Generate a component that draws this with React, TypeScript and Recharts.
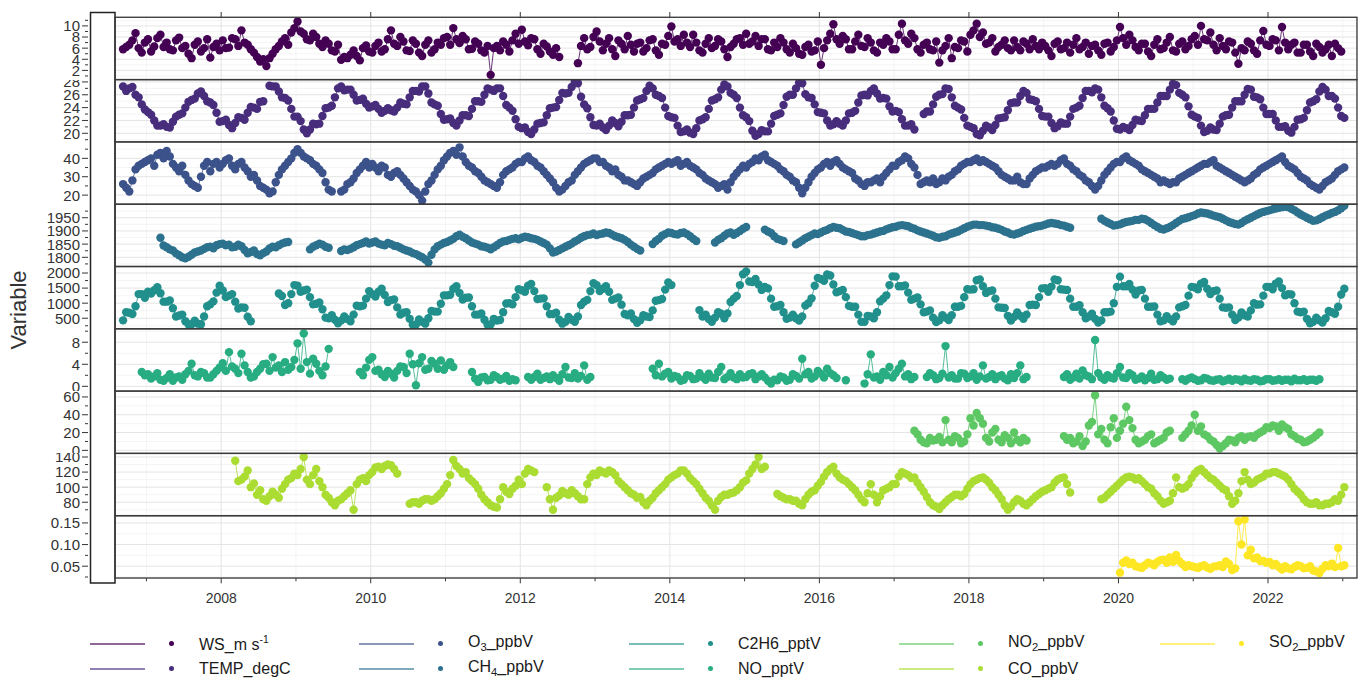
import React from "react";
import { LineChart, Line, XAxis, YAxis, CartesianGrid } from "recharts";

const FONT = '"Liberation Sans", Arial, Helvetica, sans-serif';

// time axis, decimal years
const X_DOMAIN: [number, number] = [2006.58, 2023.19];
const yearMajor = [2008, 2010, 2012, 2014, 2016, 2018, 2020, 2022];
const yearMinor = [2007, 2009, 2011, 2013, 2015, 2017, 2019, 2021, 2023];

// Each variable: [first year, first month], then two readings per month
// (early-month value and late-month value); null = no data.
const wsStart = [2006, 9];
const wsEarly = [
  5.8, 6.6, 8.7, 5.2,
  7.6, 6.3, 8.4, 7.0, 5.6, 7.9, 6.4, 4.2, 7.2, 6.0, 4.3, 6.8,
  7.4, 6.1, 7.6, 9.2, 6.6, 5.2, 3.6, 2.8, 5.0, 6.4, 7.8, 8.8,
  10.8, 8.6, 7.4, 8.0, 6.2, 6.8, 5.4, 3.9, 4.2, 5.6, 3.8, 6.5,
  5.2, 7.0, 5.8, 9.2, 6.4, 7.2, 5.5, 6.8, 4.6, 7.4, 5.8, 6.6,
  8.0, 9.6, 6.9, 7.6, 5.9, 6.8, 5.2, 1.2, 6.4, 7.2, 5.4, 8.6,
  9.3, 6.5, 7.6, 5.0, 6.3, 4.8, 4.4, null, null, 3.3, 7.8, 6.2,
  9.0, 5.6, 7.8, 4.6, 6.8, 8.2, 5.4, 7.0, 6.0, 7.6, 4.8, 6.6,
  9.9, 7.6, 8.4, 6.2, 7.0, 5.2, 7.8, 6.4, 7.2, 4.4, 6.8, 7.8,
  8.6, 7.2, 6.4, 7.6, 5.6, 6.2, 7.0, 5.2, 6.0, 4.8, 6.6, 5.6,
  3.0, 7.4, 10.3, 6.8, 7.6, 5.8, 8.4, 6.2, 7.0, 5.2, 6.6, 7.2,
  5.8, 10.4, 6.8, 7.8, 5.2, 7.0, 5.6, 3.4, 6.4, 4.2, 6.0, 7.2,
  8.4, 10.4, 8.8, 7.0, 5.4, 6.6, 6.0, 7.4, 5.6, 6.8, 7.6, 5.8,
  6.4, 4.6, 7.2, 6.0, 5.2, 7.8, 6.2, 5.0, 6.6, 4.8, 7.0, 6.2,
  9.8, 6.6, 7.4, 5.6, 6.8, 4.6, 7.6, 6.0, 8.0, 5.4, 7.2, 6.4,
  8.2, 10.0, 7.4, 6.6, 7.8, 5.8, 7.0, 3.2, 5.6, 6.8, 5.0, 9.1,
  6.4, 7.4, 9.8, 5.8, 7.0, 5.2, 6.6, 4.6, 6.2, 5.8, 4.6, 6.0,
];
const wsLate = [
  6.2, 7.4, 6.0, 7.0,
  5.4, 7.8, 6.2, 5.8, 7.4, 6.0, 5.0, 6.6, 5.4, 7.6, 6.2, 5.6,
  6.0, 7.8, 6.4, 7.0, 5.8, 4.4, 4.0, 4.2, 5.8, 7.2, 6.6, 9.6,
  9.0, 7.6, 8.6, 6.8, 7.4, 5.6, 6.6, 4.4, 4.8, 4.6, 6.0, 5.4,
  6.4, 5.4, 7.6, 6.8, 8.0, 5.6, 7.4, 5.2, 6.6, 5.2, 7.0, 7.8,
  6.6, 7.6, 8.2, 5.8, 7.2, 5.6, 6.4, 6.0, 5.6, 6.6, 7.4, 6.8,
  7.2, 7.8, 5.8, 6.8, 5.4, 6.0, null, null, null, 6.4, 5.8, 8.0,
  7.2, 6.8, 5.8, 7.4, 5.8, 6.6, 6.8, 5.4, 7.4, 5.6, 6.8, 8.2,
  7.2, 6.4, 7.0, 8.4, 5.6, 6.8, 6.0, 7.6, 5.8, 6.2, 7.6, 6.6,
  6.8, 8.2, 7.6, 5.8, 7.0, 7.8, 5.8, 6.8, 5.0, 6.2, 5.4, 7.2,
  6.0, 8.6, 7.6, 8.2, 5.8, 7.2, 6.4, 7.8, 5.6, 7.0, 7.8, 5.8,
  8.4, 7.4, 8.6, 5.8, 6.6, 5.8, 7.2, 5.6, 7.8, 6.2, 7.4, 5.4,
  9.2, 8.0, 6.8, 7.8, 6.2, 7.4, 5.6, 6.2, 7.2, 5.8, 6.4, 7.0,
  5.6, 6.8, 5.8, 7.0, 6.6, 5.8, 7.0, 6.4, 5.6, 6.8, 5.4, 7.4,
  7.8, 8.4, 6.2, 6.8, 5.4, 6.6, 5.8, 7.0, 5.6, 6.8, 5.8, 7.6,
  6.6, 7.6, 8.8, 5.6, 6.4, 7.2, 5.2, 6.0, 7.2, 5.6, 7.4, 6.6,
  7.6, 5.6, 7.0, 6.6, 5.2, 6.6, 5.4, 6.8, 5.2, 6.6, 6.8, 5.4,
];

const tempStart = [2006, 9];
const tempEarly = [
  27.3, 27.0, 26.0, 24.5,
  23.3, 22.0, 21.2, 21.0, 21.8, 22.9, 24.0, 25.2, 26.2, 25.8, 24.8, 23.2,
  21.9, 21.3, 21.6, 22.4, 23.2, 24.0, 24.9, null, 27.3, 26.5, 25.5, 23.8,
  22.6, 20.6, 20.6, 21.4, 22.7, 24.0, 25.6, 27.3, 26.8, 26.0, 25.2, 24.6,
  24.2, 23.8, 23.5, 23.6, 24.0, 24.6, 25.6, 26.6, 27.3, 26.2, 24.5, 23.0,
  22.2, 21.6, 22.0, 22.8, 23.8, 25.0, 26.0, 26.8, 27.0, 25.8, 24.0, 22.2,
  20.8, 20.2, 20.6, 21.6, 22.8, 24.0, 25.2, 26.2, 27.2, 27.8, 24.5, 22.5,
  21.2, 20.9, 21.2, 21.6, 21.8, 22.8, 24.0, 25.3, 26.6, 27.0, 25.8, 24.0,
  22.5, 21.2, 20.3, 20.1, 20.8, 22.2, 23.8, 25.3, 26.8, 27.3, 26.0, 24.0,
  22.5, 20.4, 19.9, 20.3, 21.5, 22.9, 24.4, 26.0, 27.0, 27.8, 25.6, 24.5,
  23.2, 22.0, 21.4, 21.5, 22.0, 23.2, 24.8, 26.0, 26.6, 26.2, 25.5, 24.2,
  23.5, 22.2, 21.2, 20.6, null, 23.4, 24.5, 26.0, 27.0, 25.6, 24.0, 22.4,
  21.0, 19.9, 20.4, 20.9, 21.3, 22.4, 23.6, 24.8, 25.8, 26.3, 25.2, 23.8,
  22.6, 21.6, 21.1, 21.5, 22.6, 24.0, 25.5, 26.6, 27.0, 25.6, 23.9, 22.0,
  20.6, 20.8, 21.3, 22.0, 22.8, 23.8, 24.8, 25.8, 26.8, 27.5, 26.0, 24.2,
  22.6, 21.2, 20.4, 20.6, 21.5, 22.8, 24.0, 25.0, 26.0, 26.8, 25.6, 24.0,
  23.0, 22.0, 21.0, 20.4, 21.0, 22.2, 23.6, 25.0, 26.5, 26.8, 25.8, 24.0,
  22.4,
];
const tempLate = [
  26.6, 27.2, 25.6, 23.7,
  22.9, 21.2, 21.4, 20.9, 22.6, 23.1, 24.9, 25.4, 26.5, 25.0, 24.4, 21.8,
  22.1, 20.8, 22.5, 22.1, 24.1, 23.8, 25.0, 27.4, 27.3, 25.6, 25.1, 22.6,
  21.9, 20.0, 21.5, 21.5, 23.9, 24.3, 27.0, 26.7, 26.8, 25.1, 25.4, 24.0,
  24.4, 23.2, 23.9, 23.4, 24.8, 24.5, 26.6, 26.5, 27.3, 24.8, 24.3, 22.1,
  22.3, 21.2, 22.8, 22.7, 25.0, 24.9, 27.0, 26.6, 27.0, 24.4, 23.5, 21.0,
  20.9, 19.9, 21.5, 21.7, 23.9, 24.1, 26.3, 26.3, 28.0, 25.7, 23.9, 21.3,
  21.5, 20.5, 22.0, 21.1, 22.8, 22.9, 25.1, 25.5, 27.4, 26.0, 25.5, 22.7,
  22.4, 20.2, 20.6, 19.9, 22.0, 22.5, 25.1, 25.6, 27.6, 26.3, 25.5, 22.8,
  21.9, 19.6, 20.5, 20.3, 22.7, 23.1, 25.7, 26.0, 27.9, 26.1, 25.5, 23.3,
  23.1, 21.2, 21.9, 21.2, 23.1, 23.5, 25.9, 25.9, 27.0, 25.4, 25.4, 23.4,
  23.3, 21.2, 21.4, null, 23.0, 23.4, 25.7, 26.1, 26.9, 24.3, 23.7, 21.2,
  20.8, 19.7, 21.2, 20.5, 22.3, 22.5, 24.7, 24.8, 26.6, 25.3, 25.0, 22.7,
  22.6, 20.8, 21.7, 21.5, 23.8, 24.3, 26.6, 26.4, 26.8, 24.3, 23.4, 20.7,
  21.0, 20.5, 22.1, 21.9, 23.8, 23.8, 25.8, 25.8, 27.7, 26.3, 25.6, 22.9,
  22.4, 20.2, 20.9, 20.5, 22.6, 22.9, 25.0, 25.0, 26.9, 25.7, 25.3, 23.0,
  23.0, 21.0, 21.1, 20.1, 22.1, 22.4, 24.8, 25.3, 27.2, 25.8, 25.4, 22.7,
  null,
];

const o3Start = [2006, 9];
const o3Early = [
  26, 22, 34, 37,
  39, 36, 43, 44, 37, 33, 31, 26, 24, 36, 33, 38,
  37, 40, 34, 38, 33, 31, 25, 23, 22, 31, 36, 40,
  45, 41, 39, 36, 32, 23, null, 22, 26, 29, 34, 38,
  37, 33, 35, 30, 33, 29, 25, 22, 17, 26, 31, 36,
  41, 44, 46, 38, 35, 32, 28, 26, 24, 31, 34, 37,
  38, 41, 38, 35, 31, 27, 22, 25, 28, 33, 37, 39,
  40, 38, 35, 34, 30, 28, 26, 27, 30, 32, 35, 37,
  37, 39, 37, 36, 34, 31, 28, 26, 25, 23, 30, 34,
  35, 38, 39, 42, 38, 36, 33, 30, 27, 21, 27, 32,
  35, 38, 38, 37, 34, 32, 28, 25, 27, 29, 30, 34,
  36, 39, 40, 35, 26, 28, 29, 27, 28, 31, 34, 37,
  38, 40, 39, 37, 35, 31, 29, 28, 27, 26, 31, 34,
  35, 37, 37, 40, 36, 33, 30, 27, 23, 28, 33, 37,
  38, 41, 38, 36, 33, 31, 29, 28, 26, 27, 30, 32,
  34, 36, 37, 39, 35, 33, 31, 29, 27, 29, 32, 35,
  37, 39, 41, 36, 34, 30, 28, 25, 23, 27, 29, 33,
  35,
];
const o3Late = [
  24, 28, 36, 38,
  40, 42, 40, 41, 35, 36, 28, 25, 30, 38, 37, 35,
  39, 36, 37, 35, 30, 28, 24, 21, 27, 34, 38, 43,
  43, 40, 37, 34, 27, 22, null, 23, 27, 32, 36, 35,
  35, 36, 31, 32, 31, 27, 23, 20, 22, 28, 34, 39,
  43, 42, 41, 36, 33, 30, 27, 25, 27, 33, 35, 38,
  40, 39, 36, 33, 29, 24, 23, 27, 31, 35, 38, 40,
  38, 36, 33, 31, 28, 27, 25, 29, 31, 34, 36, 38,
  38, 36, 38, 35, 32, 29, 27, 24, 26, 27, 32, 36,
  37, 40, 41, 39, 37, 34, 31, 28, 24, 24, 30, 34,
  37, 36, 39, 35, 33, 29, 26, 27, 28, 27, 32, 36,
  38, 41, 37, 31, 27, 27, 26, 29, 30, 33, 36, 38,
  39, 38, 38, 36, 33, 30, 28, 30, 26, 29, 33, 35,
  36, 36, 39, 37, 34, 31, 28, 25, 25, 31, 35, 38,
  40, 39, 37, 34, 32, 30, 27, 27, 27, 29, 31, 33,
  35, 37, 38, 36, 34, 32, 30, 28, 28, 31, 34, 36,
  38, 40, 38, 35, 32, 29, 26, 24, 25, 28, 31, 34,
  null,
];

const ch4Start = [2007, 3];
const ch4Early = [
  1874, 1838, 1826, 1808, 1796, 1810, 1822, 1832, 1840, 1846,
  1852, 1848, 1840, 1842, 1815, 1826, 1808, 1822, 1840, 1846, 1856, null,
  null, null, 1830, 1846, 1848, 1836, null, 1824, 1828, 1838, 1850, 1860,
  1856, 1852, 1846, 1850, 1842, 1830, 1822, 1812, 1800, 1780, 1830, 1848,
  1858, 1870, 1886, 1872, 1856, 1848, 1840, 1830, 1846, 1860, 1866, 1872,
  1874, 1876, 1870, 1860, 1848, 1818, 1828, 1840, 1852, 1866, 1880, 1886,
  1884, 1890, 1892, 1880, 1872, 1858, 1840, 1826, null, 1850, 1870, 1888,
  1892, 1886, 1894, 1880, 1862, null, null, 1856, 1872, 1890, 1885, 1900,
  1915, null, null, 1905, 1892, 1870, 1862, null, 1849, 1864, 1878, 1890,
  1894, 1904, 1915, 1910, 1898, 1892, 1884, 1880, 1886, 1894, 1900, 1910,
  1916, 1922, 1918, 1908, 1898, 1890, 1882, 1874, 1880, 1890, 1898, 1910,
  1920, 1924, 1922, 1918, 1912, 1904, 1894, 1886, 1894, 1904, 1912, 1918,
  1924, 1930, 1926, 1920, 1912, null, null, null, null, 1946, 1932, 1920,
  1925, 1934, 1938, 1942, 1944, 1930, 1915, 1905, 1915, 1930, 1945, 1952,
  1960, 1970, 1966, 1958, 1952, 1940, 1930, 1924, 1938, 1950, 1962, 1972,
  1978, 1985, 1990, 1990, 1978, 1962, 1950, 1938, 1945, 1958, 1968, 1978,
  1995,
];
const ch4Late = [
  1845, 1830, 1815, 1800, 1802, 1818, 1826, 1838, 1834, 1850,
  1846, 1838, 1848, 1828, 1820, 1812, 1816, 1834, 1838, 1852, 1858, null,
  null, null, 1840, 1852, 1840, null, null, 1830, 1832, 1846, 1854, 1852,
  1860, 1848, 1854, 1844, 1836, 1826, 1816, 1806, 1792, 1810, 1842, 1854,
  1864, 1880, 1878, 1864, 1852, 1842, 1836, 1838, 1854, 1862, 1870, 1868,
  1878, 1872, 1866, 1854, 1834, 1822, 1834, 1846, 1860, 1874, 1884, 1890,
  1888, 1894, 1886, 1876, 1866, 1848, 1832, null, null, 1862, 1882, 1894,
  1888, 1892, 1888, 1870, null, null, null, 1866, 1882, 1894, 1892, 1908,
  null, null, null, 1898, 1880, 1866, null, null, 1856, 1872, 1884, 1888,
  1900, 1910, 1912, 1904, 1896, 1888, 1880, 1884, 1890, 1898, 1906, 1914,
  1920, 1920, 1912, 1902, 1894, 1886, 1876, 1878, 1886, 1894, 1904, 1916,
  1924, 1922, 1920, 1914, 1908, 1898, 1888, 1890, 1900, 1908, 1916, 1920,
  1928, 1928, 1922, 1916, null, null, null, null, null, 1938, 1926, 1922,
  1930, 1936, 1942, 1946, 1938, 1922, 1908, 1910, 1922, 1938, 1948, 1956,
  1966, 1968, 1962, 1955, 1946, 1934, 1926, 1930, 1944, 1956, 1968, 1975,
  1982, 1988, 1992, 1984, 1970, 1956, 1944, 1940, 1952, 1962, 1972, 1986,
  null,
];

const c2h6Start = [2006, 9];
const c2h6Early = [
  430, 680, 900, 1300,
  1380, 1430, 1330, 1050, 830, 590, 400, 300, 320, 560, 960, 1350,
  1420, 1250, 1050, 860, 550, null, null, null, null, 1320, 940, 1300,
  1580, 1420, 1200, 980, 800, 500, 450, 420, 470, 620, 900, 1150,
  1300, 1380, 1270, 1100, 860, 680, 480, 290, 380, 500, 720, 980,
  1260, 1480, 1340, 1180, 900, 620, 450, 300, 420, 700, 1000, 1200,
  1430, 1580, 1400, 1150, 900, 640, 450, 380, 450, 560, 1050, 1400,
  1600, 1480, 1380, 1150, 950, 600, 470, 430, 560, 760, 1100, 1450,
  1600, null, null, null, null, 560, 470, 520, 650, 660, 1150, 1600,
  2050, 1700, 1620, 1540, 1150, 900, 700, 520, 500, 560, 1000, 1580,
  1800, 1950, 1620, 1400, 1200, 880, 620, 380, 560, 700, 1150, 1600,
  1880, 1560, 1350, 1150, 960, 720, 520, 430, 520, 600, 880, 1200,
  1450, 1760, 1560, 1400, 1150, 850, 580, 540, 580, 620, 950, 1200,
  1500, 1550, 1760, 1450, 1150, 880, 700, 560, 480, 430, 700, 1000,
  1880, 1560, 1450, 1420, 1150, 880, 620, 430, 470, 560, 900, 1250,
  1520, 1650, 1480, 1400, 1150, 850, 620, 520, 600, 760, 950, 1250,
  1540, 1650, 1500, 1300, 1000, 700, 480, 380, 430, 500, 700, 880,
  1480,
];
const c2h6Late = [
  700, 640, 1300, 1180,
  1320, 1530, 1050, 1090, 560, 620, 300, 420, 300, 900, 1060, 1580,
  1200, 1300, 820, 850, 400, null, null, null, null, 1240, 1000, 1600,
  1380, 1450, 960, 1020, 520, 600, 330, 560, 400, 920, 920, 1400,
  1220, 1480, 1040, 1120, 620, 700, 280, 460, 320, 740, 720, 1260,
  1280, 1560, 1120, 1190, 620, 660, 280, 480, 440, 990, 960, 1460,
  1380, 1640, 1140, 1160, 640, 680, 320, 540, 380, 940, 1110, 1660,
  1400, 1560, 1110, 1190, 640, 660, 350, 600, 540, 1080, 1140, 1690,
  null, null, null, null, 770, 620, 380, 700, 500, 1040, 1240, 1960,
  1720, 1800, 1440, 1490, 880, 940, 480, 620, 420, 920, 1160, 1840,
  1740, 1920, 1360, 1440, 910, 880, 380, 580, 500, 1060, 1260, 1890,
  1560, 1590, 1110, 1190, 700, 760, 370, 600, 440, 880, 910, 1460,
  1460, 1790, 1340, 1420, 860, 840, 420, 690, 480, 940, 940, 1490,
  1380, 1790, 1460, 1440, 880, 930, 500, 650, 360, 700, 720, 1540,
  1560, 1640, 1290, 1440, 880, 890, 400, 570, 400, 860, 940, 1540,
  1460, 1700, 1300, 1420, 860, 860, 440, 690, 560, 1000, 960, 1540,
  1460, 1720, 1260, 1290, 720, 720, 330, 520, 360, 740, 650, 1290,
  null,
];

const noStart = [2006, 12];
const noEarly = [
  2.6,
  2.2, 1.8, 1.2, 1.5, 1.0, 1.8, 2.2, 4.1, 1.8, 2.4, 1.6, 2.8,
  4.2, 6.2, 3.2, 5.9, 2.6, 1.8, 3.2, 4.1, 5.3, 3.8, 4.4, 3.5,
  7.8, 9.6, 2.3, 4.1, 2.0, 6.8, null, null, null, null, 2.6, 3.4,
  5.3, 3.0, 1.7, 2.3, 2.8, 3.5, 5.9, 0.2, 5.3, 3.2, 4.1, 4.7,
  3.8, 3.5, null, null, 2.6, 0.8, 1.7, 1.2, 1.7, 1.4, 1.0, 1.1,
  null, 1.7, 1.7, 1.2, 1.8, 2.0, 1.0, 3.5, 1.5, 1.4, 3.8, 1.7,
  null, null, null, null, null, null, null, null, null, 3.2, 4.1, 2.3,
  1.4, 1.7, 1.2, 1.9, 1.4, 1.7, 2.3, 1.5, 3.5, 1.7, 1.6, 2.2,
  1.7, 2.4, 1.8, 1.6, 0.5, 1.1, 1.6, 1.2, 1.9, 5.0, 2.6, 1.8,
  2.3, 3.2, 2.0, null, 1.1, null, null, 0.5, 5.8, 1.8, 2.6, 3.5,
  2.4, 4.1, 2.2, 1.7, null, 1.7, 2.0, 1.5, 7.3, 2.0, 1.4, 2.3,
  1.8, 1.2, 3.8, 1.7, 1.3, 2.0, 1.1, 1.5, 3.8, 1.7, null, null,
  null, null, null, 1.7, 1.2, 2.3, 2.9, 1.8, 8.4, 1.6, 2.0, 1.4,
  3.5, 1.5, 2.0, 1.4, 1.1, 2.3, 1.3, 1.6, 1.4, null, 1.3, 1.4,
  1.3, 1.1, 1.4, 1.0, 1.3, 1.1, 1.0, 1.2, 1.4, 1.0, 1.2, 1.0,
  1.3, 1.1, 1.0, 1.2, 1.4, 1.1, 1.0, 1.2, 1.3,
];
const noLate = [
  2.0,
  1.4, 2.4, 1.0, 2.2, 1.6, 1.2, 2.8, 2.0, 2.6, 1.6, 2.2, 3.4,
  2.8, 3.6, 2.4, 3.8, 1.6, 2.6, 4.0, 2.8, 3.4, 2.6, 3.0, 4.8,
  3.2, 4.4, 5.0, 2.8, 3.6, null, null, null, null, null, 2.0, 4.8,
  2.8, 2.2, 2.8, 1.6, 3.6, 2.4, 4.0, 4.2, 3.0, 4.6, 3.2, 3.0,
  4.4, null, null, null, 1.4, 1.6, 1.1, 2.0, 1.2, 1.9, 1.3, null,
  null, 1.2, 2.3, 1.5, 1.3, 1.5, 2.2, 1.6, 2.4, 1.9, 1.2, null,
  null, null, null, null, null, null, null, null, null, 2.0, 1.8, 2.6,
  1.9, 1.0, 2.0, 1.3, 2.4, 1.2, 1.6, 2.6, 1.3, 2.4, 1.3, 1.6,
  2.2, 1.3, 2.2, 1.0, 1.2, 1.8, 1.0, 2.2, 1.4, 2.2, 1.4, 2.8,
  1.6, 2.4, 1.5, null, null, null, null, 2.2, 1.6, 1.2, 2.0, 1.6,
  3.2, 1.8, 1.3, null, null, 2.4, 1.3, 2.3, 1.6, 1.4, 2.4, 1.5,
  2.4, 1.8, 1.4, 2.2, 1.8, 1.4, 2.2, 2.4, 1.3, null, null, null,
  null, null, null, 2.2, 1.6, 1.4, 2.0, 1.3, 2.4, 1.2, 1.6, 2.4,
  1.6, 2.4, 1.2, 1.8, 1.5, 1.2, 2.0, 1.2, null, null, 1.0, 1.6,
  1.0, 1.5, 1.1, 1.2, 0.9, 1.4, 1.3, 0.9, 1.1, 1.3, 0.9, 1.3,
  1.0, 1.3, 1.2, 0.9, 1.1, 1.3, 1.2, 1.0, null,
];

const no2Start = [2017, 4];
const no2Early = [
  22, 12, 8, 11, 15, 34, 9, 14, 10,
  36, 42, 30, 10, 24, 9, 14, 20, 9, 11, null, null,
  null, null, null, 16, 14, 10, 5, 28, 62, 24, 8, 36,
  22, 49, 25, 8, 12, 18, 10, 14, 22, null, 14, 22,
  40, 27, 16, 10, 2, 8, 11, 14, 12, 16, 18, 22,
  25, 27, 29, 24, 16, 12, 10, 14, 20,
];
const no2Late = [
  18, 9, 14, 12, 9, 12, 16, 8, 18,
  28, 36, 14, 20, 12, 17, 8, 12, 14, null, null, null,
  null, null, null, 12, 8, 16, 10, 32, 18, 12, 26, 14,
  30, 34, 12, 10, 16, 8, 12, 20, null, null, 18, 28,
  22, 18, 12, 6, 5, 12, 9, 16, 15, 14, 20, 26,
  28, 22, 26, 18, 13, 9, 12, 17, null,
];

const coStart = [2008, 3];
const coEarly = [
  135, 110, 122, 105, 96, 82, 94, 86, 104, 112,
  116, 140, 104, 124, 100, 86, 76, 84, 92, 70, 110, 108,
  120, 127, 128, 129, 118, null, 78, 80, 82, 84, 84, 92,
  104, 136, 124, 120, 108, 98, 84, 76, 73, 100, 91, 102,
  104, 124, 120, null, 100, 70, 89, 92, 96, 88, 84, 113,
  116, 120, 122, 116, 104, 96, 90, 87, 76, 86, 96, 104,
  113, 118, 122, 112, 104, 92, 82, 70, 87, 90, 93, 100,
  109, 124, 140, 127, null, 91, 86, 84, 82, 76, 90, 96,
  107, 120, 127, 113, 108, 100, 90, 80, 104, 80, 96, 100,
  104, 120, 116, 113, 100, 87, 76, 71, 80, 87, 90, 91,
  104, 110, 113, 106, 96, 84, 70, 80, 82, 76, 84, 91,
  96, 100, 110, 113, 93, null, null, null, null, 84, 90, 98,
  106, 113, 113, 112, 104, 98, 88, 78, 82, 113, 98, 104,
  118, 124, 116, 110, 102, 96, 78, 92, 120, 104, 110, 114,
  118, 120, 116, 110, 98, 90, 80, 78, 76, 78, 80, 82,
  100,
];
const coLate = [
  108, 114, 100, 90, 84, 88, 90, 98, 110, 118,
  124, 110, 116, 108, 90, 80, 82, 88, 96, 104, 112, 116,
  126, 124, 130, 124, null, null, 80, 78, 84, 82, 88, 98,
  116, 128, 118, 112, 104, 90, 80, 74, 84, 94, 98, 110,
  118, 122, null, null, 84, 86, 95, 90, 92, 84, 104, 118,
  122, 118, 120, 108, 100, 92, 86, 80, 82, 92, 100, 110,
  116, 122, 118, 108, 98, 86, 76, 82, 90, 92, 96, 106,
  118, 130, 124, null, null, 88, 84, 82, 78, 84, 94, 102,
  114, 124, 118, 110, 104, 96, 84, 92, 90, 88, 98, 104,
  114, 118, 112, 106, 94, 80, 74, 76, 84, 90, 88, 98,
  108, 112, 110, 100, 90, 76, 74, 84, 78, 80, 88, 94,
  98, 106, 112, 104, null, null, null, null, null, 86, 94, 102,
  110, 114, 110, 108, 100, 92, 82, 80, 92, 100, 100, 112,
  122, 120, 112, 106, 98, 88, 82, 108, 110, 106, 112, 118,
  120, 118, 114, 104, 94, 84, 78, 80, 76, 78, 84, 90,
  null,
];

const so2Start = [2020, 1];
const so2Early = [
  0.035, 0.063, 0.058, 0.048, 0.052, 0.056, 0.06, 0.065, 0.07, 0.076, 0.055, 0.052,
  0.048, 0.05, 0.047, 0.049, 0.052, 0.061, 0.041, 0.154, 0.158, 0.088, 0.07, 0.062,
  0.06, 0.055, 0.042, 0.045, 0.048, 0.05, 0.046, 0.04, 0.034, 0.052, 0.056, 0.092,
  0.052,
];
const so2Late = [
  0.058, 0.055, 0.05, 0.046, 0.058, 0.052, 0.064, 0.058, 0.06, 0.062, 0.048, 0.05,
  0.046, 0.052, 0.044, 0.05, 0.048, 0.055, 0.045, 0.1, 0.075, 0.068, 0.062, 0.058,
  0.052, 0.048, 0.05, 0.043, 0.052, 0.045, 0.05, 0.038, 0.044, 0.05, 0.048, 0.05,
  null,
];

// page layout
const PLOT_LEFT = 115;
const PLOT_RIGHT = 1357;
const PANEL_TOP = 17.3;
const PANEL_H = 62.3;
const AXIS_X = 88;
const TOP_TICKS_H = 7;
const BOTTOM_AXIS_H = 32;

type Panel = {
  id: string;
  color: string;
  start: number[];
  early: (number | null)[];
  late: (number | null)[];
  domain: [number, number];
  major: number[];
  minor: number[];
  digits: number;
};

const panels: Panel[] = [
  { id: "ws", color: "#440154", start: wsStart, early: wsEarly, late: wsLate, domain: [0.4, 11.6], major: [2, 4, 6, 8, 10], minor: [1, 3, 5, 7, 9, 11], digits: 0 },
  { id: "temp", color: "#472D7B", start: tempStart, early: tempEarly, late: tempLate, domain: [18.6, 28.3], major: [20, 22, 24, 26, 28], minor: [19, 21, 23, 25, 27], digits: 0 },
  { id: "o3", color: "#3B528B", start: o3Start, early: o3Early, late: o3Late, domain: [15, 48.9], major: [20, 30, 40], minor: [25, 35, 45], digits: 0 },
  { id: "ch4", color: "#2C728E", start: ch4Start, early: ch4Early, late: ch4Late, domain: [1766, 2002], major: [1800, 1850, 1900, 1950], minor: [1775, 1825, 1875, 1925, 1975], digits: 0 },
  { id: "c2h6", color: "#21908C", start: c2h6Start, early: c2h6Early, late: c2h6Late, domain: [133, 2200], major: [500, 1000, 1500, 2000], minor: [250, 750, 1250, 1750], digits: 0 },
  { id: "no", color: "#27AD81", start: noStart, early: noEarly, late: noLate, domain: [-0.9, 10.4], major: [0, 4, 8], minor: [2, 6, 10], digits: 0 },
  { id: "no2", color: "#5DC863", start: no2Start, early: no2Early, late: no2Late, domain: [-3.3, 66.7], major: [0, 20, 40, 60], minor: [10, 30, 50], digits: 0 },
  { id: "co", color: "#AADC32", start: coStart, early: coEarly, late: coLate, domain: [62.7, 145.3], major: [80, 100, 120, 140], minor: [70, 90, 110, 130], digits: 0 },
  { id: "so2", color: "#FDE725", start: so2Start, early: so2Early, late: so2Late, domain: [0.022, 0.166], major: [0.05, 0.1, 0.15], minor: [0.025, 0.075, 0.125], digits: 2 },
];

// two readings per month: one at the first quarter, one at the third quarter
const toSeries = (start: number[], early: (number | null)[], late: (number | null)[]) =>
  early.flatMap((v, i) => {
    const t0 = start[0] + (start[1] - 1 + i) / 12;
    return [
      { t: t0 + 0.25 / 12, v },
      { t: t0 + 0.75 / 12, v: late[i] ?? null },
    ];
  });

const tickText = { fontFamily: FONT, fontSize: 15, fill: "#333" };

function makeYTick(p: Panel) {
  return (props: any) => {
    const { y, payload } = props;
    const v = payload.value;
    const isMajor = p.major.some((m) => Math.abs(m - v) < 1e-9);
    return (
      <g>
        <line x1={AXIS_X - (isMajor ? 6 : 3)} x2={AXIS_X} y1={y} y2={y} stroke="#333" strokeWidth={1} />
        {isMajor && (
          <text x={AXIS_X - 8} y={y} dy="0.36em" textAnchor="end" style={tickText}>
            {v.toFixed(p.digits)}
          </text>
        )}
      </g>
    );
  };
}

function renderXTick(props: any) {
  const { x, payload } = props;
  const isMajor = yearMajor.includes(payload.value);
  return (
    <g>
      <line x1={x} x2={x} y1={PANEL_H} y2={PANEL_H + (isMajor ? 5 : 3)} stroke="#333" strokeWidth={1} />
      {isMajor && (
        <text x={x} y={PANEL_H + 20} dy="0.36em" textAnchor="middle" style={{ ...tickText, fontSize: 14 }}>
          {payload.value}
        </text>
      )}
    </g>
  );
}

function renderTopTick(props: any) {
  const { x } = props;
  return <line x1={x} x2={x} y1={TOP_TICKS_H - 5} y2={TOP_TICKS_H} stroke="#333" strokeWidth={1} />;
}

function PanelChart({ p, index }: { p: Panel; index: number }) {
  const first = index === 0;
  const last = index === panels.length - 1;
  const data = toSeries(p.start, p.early, p.late);
  const height = PANEL_H + (first ? TOP_TICKS_H : 0) + (last ? BOTTOM_AXIS_H : 0);
  const top = PANEL_TOP + index * PANEL_H - (first ? TOP_TICKS_H : 0);
  return (
    <div style={{ position: "absolute", left: 0, top }}>
      <LineChart width={PLOT_RIGHT} height={height} data={data} margin={{ top: 0, right: 0, bottom: 0, left: 0 }}>
        {first && (
          <XAxis
            xAxisId="top"
            orientation="top"
            type="number"
            dataKey="t"
            domain={X_DOMAIN}
            allowDataOverflow
            ticks={yearMajor}
            interval={0}
            height={TOP_TICKS_H}
            tickSize={0}
            tickMargin={0}
            axisLine={false}
            tickLine={false}
            tick={renderTopTick}
          />
        )}
        <XAxis
          xAxisId="main"
          type="number"
          dataKey="t"
          domain={X_DOMAIN}
          allowDataOverflow
          ticks={[...yearMajor, ...yearMinor]}
          interval={0}
          hide={!last}
          height={last ? BOTTOM_AXIS_H : 0}
          tickSize={0}
          tickMargin={0}
          axisLine={false}
          tickLine={false}
          tick={renderXTick}
        />
        <XAxis xAxisId="gridMajor" type="number" dataKey="t" domain={X_DOMAIN} allowDataOverflow ticks={yearMajor} interval={0} hide />
        <XAxis xAxisId="gridMinor" type="number" dataKey="t" domain={X_DOMAIN} allowDataOverflow ticks={yearMinor} interval={0} hide />
        <YAxis
          yAxisId="main"
          type="number"
          dataKey="v"
          domain={p.domain}
          allowDataOverflow
          ticks={[...p.major, ...p.minor]}
          interval={0}
          width={PLOT_LEFT}
          tickSize={0}
          tickMargin={0}
          axisLine={false}
          tickLine={false}
          tick={makeYTick(p)}
        />
        <YAxis yAxisId="gridMajor" type="number" dataKey="v" domain={p.domain} allowDataOverflow ticks={p.major} interval={0} hide />
        <YAxis yAxisId="gridMinor" type="number" dataKey="v" domain={p.domain} allowDataOverflow ticks={p.minor} interval={0} hide />
        <CartesianGrid xAxisId="gridMinor" yAxisId="gridMinor" stroke="#f1f1f1" strokeWidth={0.8} />
        <CartesianGrid xAxisId="gridMajor" yAxisId="gridMajor" stroke="#e4e4e4" strokeWidth={1} />
        <Line
          xAxisId="main"
          yAxisId="main"
          type="linear"
          dataKey="v"
          stroke={p.color}
          strokeWidth={0.8}
          dot={{ r: 4.2, fill: p.color, stroke: p.color, strokeWidth: 0 }}
          activeDot={false}
          connectNulls={false}
          isAnimationActive={false}
        />
      </LineChart>
    </div>
  );
}

// legend, filled column by column
const legendItems: { color: string; label: React.ReactNode }[] = [
  { color: "#440154", label: <>WS_m s<sup style={{ fontSize: "0.65em" }}>-1</sup></> },
  { color: "#472D7B", label: <>TEMP_degC</> },
  { color: "#3B528B", label: <>O<sub style={{ fontSize: "0.7em" }}>3</sub>_ppbV</> },
  { color: "#2C728E", label: <>CH<sub style={{ fontSize: "0.7em" }}>4</sub>_ppbV</> },
  { color: "#21908C", label: <>C2H6_pptV</> },
  { color: "#27AD81", label: <>NO_pptV</> },
  { color: "#5DC863", label: <>NO<sub style={{ fontSize: "0.7em" }}>2</sub>_ppbV</> },
  { color: "#AADC32", label: <>CO_ppbV</> },
  { color: "#FDE725", label: <>SO<sub style={{ fontSize: "0.7em" }}>2</sub>_ppbV</> },
];
const legendTextX = [199, 468, 738, 1008, 1269];
const legendRowY = [643.5, 668.5];

function Legend() {
  return (
    <>
      {legendItems.map((item, i) => {
        const col = Math.floor(i / 2);
        const row = i % 2;
        const tx = legendTextX[col];
        const cy = legendRowY[row];
        return (
          <React.Fragment key={i}>
            <div style={{ position: "absolute", left: tx - 109, top: cy - 1, width: 55, height: 2, background: item.color, opacity: 0.6 }} />
            <div style={{ position: "absolute", left: tx - 30.5, top: cy - 2.5, width: 5, height: 5, borderRadius: "50%", background: item.color }} />
            <div
              style={{
                position: "absolute",
                left: tx,
                top: cy,
                transform: "translateY(-50%)",
                fontFamily: FONT,
                fontSize: 16,
                lineHeight: 1,
                color: "#1a1a1a",
                whiteSpace: "nowrap",
              }}
            >
              {item.label}
            </div>
          </React.Fragment>
        );
      })}
    </>
  );
}

export default function App() {
  const panelsBottom = PANEL_TOP + panels.length * PANEL_H;
  return (
    <div style={{ position: "absolute", left: 0, top: 0, width: 1365, height: 680, background: "#fff", overflow: "hidden" }}>
      {panels.map((p, i) => (
        <PanelChart key={p.id} p={p} index={i} />
      ))}
      <svg width={1365} height={680} style={{ position: "absolute", left: 0, top: 0, pointerEvents: "none" }}>
        <rect x={90.5} y={12.5} width={24.5} height={panelsBottom - 12.5 + 5} fill="#fff" stroke="#222" strokeWidth={1.5} />
        {panels.map((p, i) => (
          <rect
            key={p.id}
            x={PLOT_LEFT}
            y={PANEL_TOP + i * PANEL_H}
            width={PLOT_RIGHT - PLOT_LEFT}
            height={PANEL_H}
            fill="none"
            stroke="#3a3a3a"
            strokeWidth={1.3}
          />
        ))}
        <text
          transform="translate(26, 310) rotate(-90)"
          textAnchor="middle"
          style={{ fontFamily: FONT, fontSize: 22, fill: "#333" }}
        >
          Variable
        </text>
      </svg>
      <Legend />
    </div>
  );
}
